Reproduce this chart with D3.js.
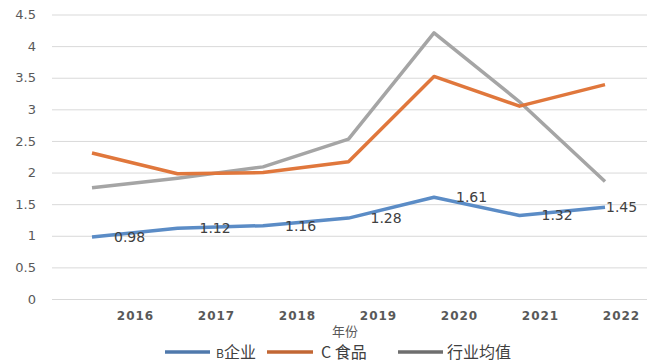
<!DOCTYPE html>
<html>
<head>
<meta charset="utf-8">
<script src="https://cdn.jsdelivr.net/npm/d3@7/dist/d3.min.js"></script>
<style>
  body { margin: 0; background: #fff; }
  svg { display: block; }
</style>
</head>
<body>
<div id="chart"></div>
<script>
// data
var years = ['2016', '2017', '2018', '2019', '2020', '2021', '2022'];
var bValues = [0.98, 1.12, 1.16, 1.28, 1.61, 1.32, 1.45];
var cValues = [2.31, 1.98, 2.0, 2.17, 3.52, 3.05, 3.39];
var avgValues = [1.76, 1.91, 2.09, 2.53, 4.21, 3.12, 1.86];
var yTicks = [0, 0.5, 1, 1.5, 2, 2.5, 3, 3.5, 4, 4.5];
var seriesNames = ['B企业', 'C 食品', '行业均值'];
var seriesColors = ['#5b8cc6', '#e0773c', '#a5a5a5'];

var width = 651, height = 363;
var svg = d3.select('#chart').append('svg')
    .attr('width', width)
    .attr('height', height);

var y = d3.scaleLinear().domain([0, 4.5]).range([299, 14.5]);
// points and year labels don't line up in the original
var x = d3.scalePoint().domain(years).range([92, 605]);
var xLabel = d3.scalePoint().domain(years).range([135, 621]);

// gridlines + y labels
var yAxis = svg.append('g')
    .attr('transform', 'translate(52,0)')
    .call(d3.axisLeft(y).tickValues(yTicks).tickSize(-595).tickSizeOuter(0)
        .tickFormat(function(d) { return d; }))
yAxis.select('.domain').remove();
yAxis.selectAll('line').attr('stroke', '#d9d9d9').attr('stroke-width', 1);
yAxis.selectAll('text')
    .attr('x', -16)
    .attr('fill', '#595959')
    .style('font-family', 'DejaVu Sans, sans-serif')
    .style('font-size', '13px');

// year labels
var xAxis = svg.append('g')
    .attr('transform', 'translate(0,310)')
    .call(d3.axisBottom(xLabel).tickSize(0).tickPadding(0));
xAxis.select('.domain').remove();
xAxis.selectAll('text')
    .attr('dy', '0.8em')
    .attr('fill', '#595959')
    .style('font-family', 'DejaVu Sans, sans-serif')
    .style('font-weight', 'bold')
    .style('font-size', '12px')
    .style('letter-spacing', '1px');

svg.append('text')
    .attr('x', 345).attr('y', 336)
    .attr('text-anchor', 'middle')
    .attr('fill', '#595959')
    .style('font-family', 'Noto Sans CJK SC, sans-serif')
    .style('font-size', '13px')
    .text('年份');

var line = d3.line()
    .x(function(d, i) { return x(years[i]); })
    .y(function(d) { return y(d); });

var allSeries = [bValues, cValues, avgValues];
// draw gray first, blue on top
[2, 1, 0].forEach(function(k) {
    svg.append('path')
        .datum(allSeries[k])
        .attr('fill', 'none')
        .attr('stroke', seriesColors[k])
        .attr('stroke-width', 3.5)
        .attr('stroke-linejoin', 'round')
        .attr('d', line);
});

// data labels for B企业
svg.append('g').selectAll('text')
    .data(bValues)
    .enter().append('text')
    .attr('x', function(d, i) { return Math.min(x(years[i]) + 22, 606); })
    .attr('y', function(d) { return y(d); })
    .attr('dy', '0.35em')
    .attr('fill', '#404040')
    .style('font-family', 'DejaVu Sans, sans-serif')
    .style('font-size', '14px')
    .text(function(d) { return d.toFixed(2); });

// legend
var legendItems = [
    { x1: 165, x2: 210, tx: 216 },
    { x1: 267, x2: 313, tx: 321 },
    { x1: 398, x2: 443, tx: 447 }
];
var legend = svg.append('g');
legendItems.forEach(function(it, k) {
    legend.append('line')
        .attr('x1', it.x1).attr('x2', it.x2)
        .attr('y1', 352).attr('y2', 352)
        .attr('stroke', seriesColors[k] === '#a5a5a5' ? '#6e6e6e' : d3.color(seriesColors[k]).darker(0.4))
        .attr('stroke-width', 3.5);
    var t = legend.append('text')
        .attr('x', it.tx).attr('y', 358)
        .attr('fill', '#404040')
        .style('font-family', 'Noto Sans CJK SC, sans-serif')
        .style('font-size', '16px');
    if (k === 0) {
        // small latin B in the original
        t.append('tspan').style('font-size', '12px').text(seriesNames[k].slice(0, 1));
        t.append('tspan').text(seriesNames[k].slice(1));
    } else {
        t.text(seriesNames[k]);
    }
});
</script>
</body>
</html>
